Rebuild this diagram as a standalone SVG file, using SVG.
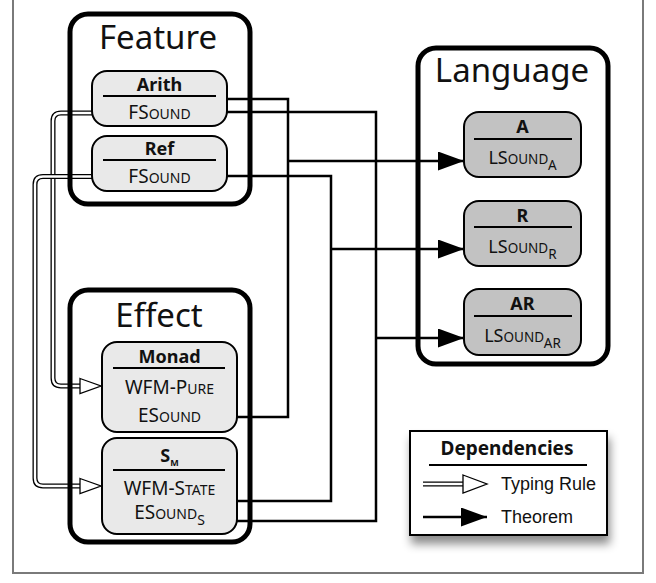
<svg xmlns="http://www.w3.org/2000/svg" width="656" height="583" viewBox="0 0 656 583">
<style>
.frame{fill:none;stroke:#7a7a7a;stroke-width:2}
.cont{fill:none;stroke:#000;stroke-width:5}
.ctitle{font-family:"Noto Sans","Open Sans",sans-serif;font-size:33px;text-anchor:middle;fill:#111}
.node{stroke:#000;stroke-width:2}
.feat{fill:#e9e9e9}
.lang{fill:#c2c2c2}
.div{stroke:#000;stroke-width:2}
.nt{font-family:"Noto Sans","Open Sans",sans-serif;text-anchor:middle;fill:#111}
.b{font-weight:bold;font-size:18px}
.big{font-size:19px}
.sm{font-size:14px}
.lbig{font-size:18px}
.lsm{font-size:13.5px}
.th{fill:none;stroke:#000;stroke-width:2.5}
.tyo{fill:none;stroke:#000;stroke-width:5}
.tyi{fill:none;stroke:#fff;stroke-width:2.4}
.open{fill:#fff;stroke:#000;stroke-width:1.3}
.leg{font-family:"Liberation Sans",Arial,sans-serif;font-size:18px;fill:#111}
</style>
<defs>
<marker id="th" markerUnits="userSpaceOnUse" viewBox="0 0 26 19" refX="26" refY="9.5" markerWidth="26" markerHeight="19" orient="auto">
<path d="M0,0 L26,9.5 L0,19 z" fill="#000"/>
</marker>
<filter id="sh" x="-20%" y="-20%" width="150%" height="170%">
<feDropShadow dx="2" dy="8" stdDeviation="5" flood-color="#000" flood-opacity="0.45"/>
</filter>
</defs>
<rect class="frame" x="13" y="-5" width="630" height="578"/>

<g id="connectors">
<g id="typing">
<path class="tyo" d="M92,113 H61 Q53,113 53,121 V378 Q53,386 61,386 H81"/>
<path class="tyi" d="M92,113 H61 Q53,113 53,121 V378 Q53,386 61,386 H81"/>
<polygon class="open" points="80,378.5 101,386 80,393.5"/>
<path class="tyo" d="M92,176.5 H43 Q35,176.5 35,184.5 V478 Q35,486 43,486 H81"/>
<path class="tyi" d="M92,176.5 H43 Q35,176.5 35,184.5 V478 Q35,486 43,486 H81"/>
<polygon class="open" points="80,478.5 101,486 80,493.5"/>
</g>
<g id="theorems">
<path class="th" d="M227,99 H288 V417 H237"/>
<path class="th" d="M288,161 H464" marker-end="url(#th)"/>
<path class="th" d="M227,176 H331 V501 H237"/>
<path class="th" d="M331,249 H464" marker-end="url(#th)"/>
<path class="th" d="M227,112 H376 V521 H237"/>
<path class="th" d="M376,338 H464" marker-end="url(#th)"/>
</g>
</g>

<g id="Feature">
<rect class="cont" x="70" y="14" width="180" height="190" rx="18"/>
<text class="ctitle" x="158" y="49">Feature</text>
</g>
<g id="Effect">
<rect class="cont" x="70" y="290" width="180" height="252" rx="18"/>
<text class="ctitle" x="159" y="327">Effect</text>
</g>
<g id="Language">
<rect class="cont" x="418" y="48" width="190" height="316" rx="18"/>
<text class="ctitle" x="512" y="82">Language</text>
</g>

<g id="Arith">
<rect class="node feat" x="92" y="71" width="135" height="55" rx="15"/>
<text class="nt b" x="159.5" y="91">Arith</text>
<line class="div" x1="103" y1="96" x2="216" y2="96"/>
<text class="nt big" x="159.5" y="119">FS<tspan class="sm">OUND</tspan></text>
</g>
<g id="Ref">
<rect class="node feat" x="92" y="136" width="135" height="55" rx="15"/>
<text class="nt b" x="159.5" y="155">Ref</text>
<line class="div" x1="103" y1="160" x2="216" y2="160"/>
<text class="nt big" x="159.5" y="183">FS<tspan class="sm">OUND</tspan></text>
</g>
<g id="Monad">
<rect class="node feat" x="102" y="342" width="135" height="90" rx="15"/>
<text class="nt b" x="169.5" y="363">Monad</text>
<line class="div" x1="113" y1="368" x2="225" y2="368"/>
<text class="nt big" x="169.5" y="394">WFM-P<tspan class="sm">URE</tspan></text>
<text class="nt big" x="169.5" y="422">ES<tspan class="sm">OUND</tspan></text>
</g>
<g id="SM">
<rect class="node feat" x="102" y="438" width="135" height="96" rx="15"/>
<text class="nt b" x="169.5" y="462">S<tspan font-size="9" dy="4">M</tspan></text>
<line class="div" x1="113" y1="470" x2="225" y2="470"/>
<text class="nt big" x="169.5" y="495">WFM-S<tspan class="sm">TATE</tspan></text>
<text class="nt big" x="169.5" y="519">ES<tspan class="sm">OUND</tspan><tspan class="sm" dy="6">S</tspan></text>
</g>

<g id="A">
<rect class="node lang" x="464" y="112" width="117" height="65" rx="15"/>
<text class="nt b" x="522.5" y="133">A</text>
<line class="div" x1="474" y1="139" x2="572" y2="139"/>
<text class="nt lbig" x="522.5" y="164">LS<tspan class="lsm">OUND</tspan><tspan class="lsm" dy="6">A</tspan></text>
</g>
<g id="R">
<rect class="node lang" x="464" y="201" width="117" height="65" rx="15"/>
<text class="nt b" x="522.5" y="222">R</text>
<line class="div" x1="474" y1="227" x2="572" y2="227"/>
<text class="nt lbig" x="522.5" y="253">LS<tspan class="lsm">OUND</tspan><tspan class="lsm" dy="6">R</tspan></text>
</g>
<g id="AR">
<rect class="node lang" x="464" y="289" width="117" height="66" rx="15"/>
<text class="nt b" x="522.5" y="310">AR</text>
<line class="div" x1="474" y1="316" x2="572" y2="316"/>
<text class="nt lbig" x="522.5" y="342">LS<tspan class="lsm">OUND</tspan><tspan class="lsm" dy="6">AR</tspan></text>
</g>

<g id="legend">
<rect x="410" y="431" width="197" height="104" fill="#fff" stroke="#000" stroke-width="2" filter="url(#sh)"/>
<text class="nt" x="507" y="455" font-weight="bold" font-size="19">Dependencies</text>
<line class="div" x1="429" y1="465" x2="587" y2="465"/>
<path class="tyo" d="M423,484 H465"/>
<path class="tyi" d="M423,484 H465"/>
<polygon class="open" points="463,475 487,484 463,493"/>
<text class="leg" x="501" y="490">Typing Rule</text>
<path class="th" d="M423,517 H487" marker-end="url(#th)"/>
<text class="leg" x="501" y="523">Theorem</text>
</g>
</svg>
